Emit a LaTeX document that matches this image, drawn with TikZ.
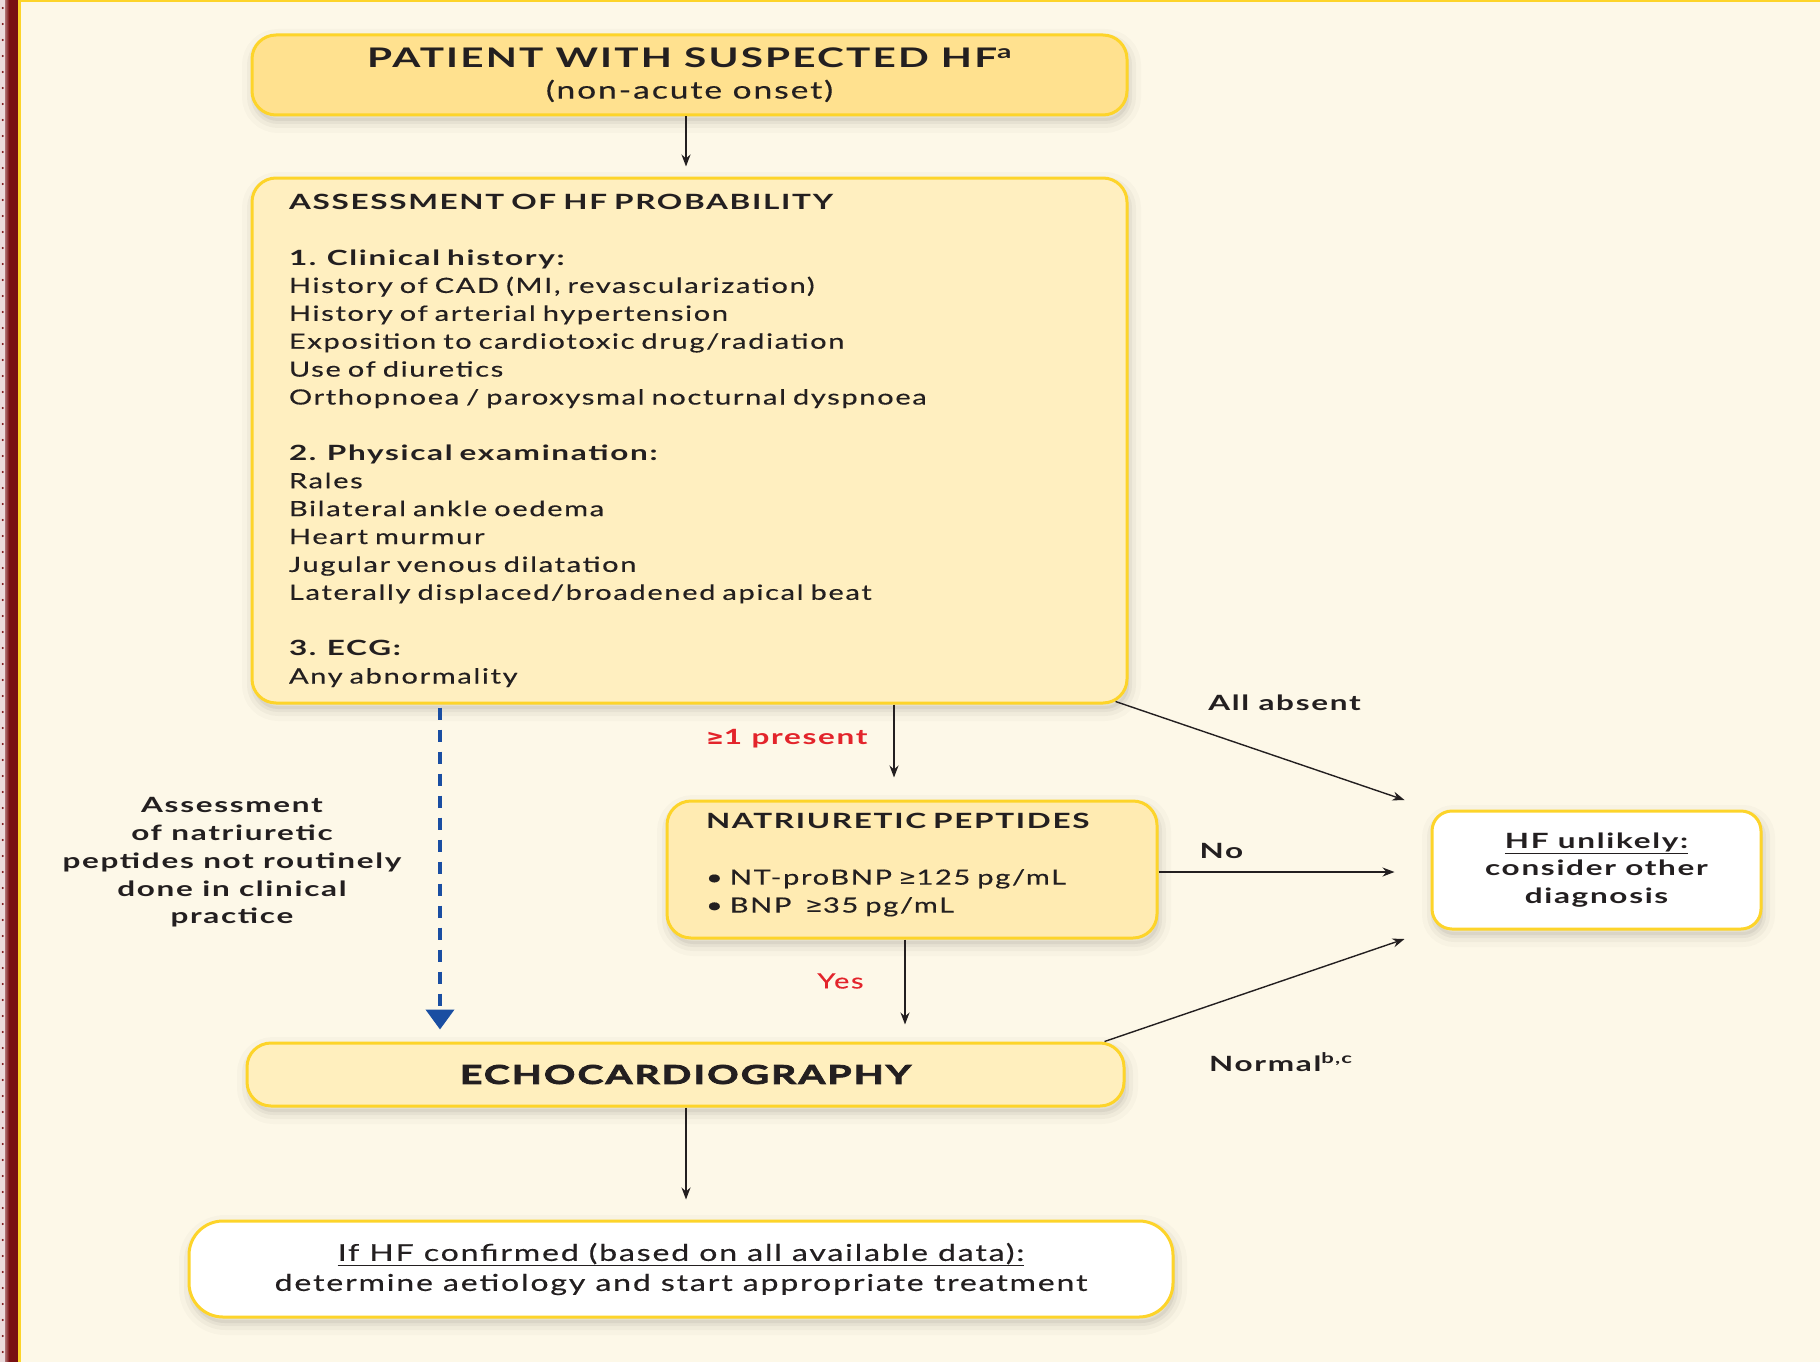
\documentclass[tikz,border=0pt]{standalone}
\usepackage{fontspec}
\setmainfont{Lato}[UprightFeatures={FakeStretch=1.38, FakeBold=0.4}, BoldFeatures={FakeStretch=1.5}, LetterSpace=8]
\newfontfamily\heavyfont{Lato}[FakeStretch=1.5, LetterSpace=8, BoldFeatures={FakeBold=3}]
\newfontfamily\symfont{DejaVu Sans}
\newcommand{\gee}{{\symfont ≥}}
\usetikzlibrary{arrows.meta,shadows,calc}
\definecolor{bg}{HTML}{FDF8E8}
\definecolor{gold}{HTML}{FDD42A}
\definecolor{fillA}{HTML}{FFE18F}
\definecolor{fillB}{HTML}{FFEFC0}
\definecolor{fillC}{HTML}{FFEBB2}
\definecolor{fillE}{HTML}{FFEFBE}
\definecolor{txt}{HTML}{231F20}
\definecolor{redt}{HTML}{E3242B}
\definecolor{blueA}{HTML}{1A4EA2}
\definecolor{maroon}{HTML}{7A1012}
\tikzset{
  softshadow/.style={
    general shadow={draw=black, line width=24pt, opacity=0.018, shadow xshift=2pt, shadow yshift=-6pt},
    general shadow={draw=black, line width=14pt, opacity=0.03, shadow xshift=2pt, shadow yshift=-6pt},
    general shadow={draw=black, line width=6pt, opacity=0.04, shadow xshift=2pt, shadow yshift=-6pt},
    general shadow={fill=black, opacity=0.05, shadow xshift=2pt, shadow yshift=-6pt}},
  box/.style={softshadow, draw=gold, line width=3pt, rounded corners=24pt, text=txt},
  arr/.style={draw=txt, line width=1.4pt, -{Stealth[length=12pt, width=9pt]}},
  bluearr/.style={draw=blueA, line width=4pt, dash pattern=on 12pt off 10pt, -{Triangle[length=20pt, width=28pt]}},
  lbl/.style={text=txt, font=\bfseries\fontsize{21}{27.9}\selectfont, inner sep=0pt},
}
\begin{document}
\begin{tikzpicture}[x=1pt,y=-1pt]
\useasboundingbox (0,0) rectangle (1820,1362);
\fill[bg] (0,0) rectangle (1820,1362);
% left border
\fill[white!85!maroon] (0,0) rectangle (6,1362);
\foreach \k in {0,...,85} {\fill[maroon] (2.8,8+\k*16) circle (1.1pt);}
\shade[left color=maroon!60!white, right color=maroon] (5,0) rectangle (9,1362);
\fill[maroon] (9,0) rectangle (18,1362);
\fill[gold] (18,0) rectangle (21,1362);
\fill[gold] (18,0) rectangle (1820,2.5);

% boxes
\node[box, fill=fillA, minimum width=875pt, minimum height=80pt, align=center,
      font=\fontsize{27}{31}\selectfont] (top) at (689.5,75)
  {\bfseries PATIENT WITH SUSPECTED HF\textsuperscript{a}\\
   {\fontsize{24.3}{31}\selectfont (non-acute onset)}};

\node[box, fill=fillB, minimum width=875pt, minimum height=525pt, text width=801pt,
      inner xsep=37pt, align=left, font=\fontsize{21}{27.9}\selectfont] (assess) at (689.5,440.5)
  {{\bfseries ASSESSMENT OF HF PROBABILITY}\\[27.9pt]
   {\bfseries 1. Clinical history:}\\
   History of CAD (MI, revascularization)\\
   History of arterial hypertension\\
   Exposition to cardiotoxic drug/radiation\\
   Use of diuretics\\
   Orthopnoea / paroxysmal nocturnal dyspnoea\\[27.9pt]
   {\bfseries 2. Physical examination:}\\
   Rales\\
   Bilateral ankle oedema\\
   Heart murmur\\
   Jugular venous dilatation\\
   Laterally displaced/broadened apical beat\\[27.9pt]
   {\bfseries 3. ECG:}\\
   Any abnormality};

\node[box, fill=fillC, minimum width=490pt, minimum height=137pt, text width=412pt,
      inner xsep=39pt, align=left, font=\fontsize{21}{27.9}\selectfont] (np) at (912,869.5)
  {{\bfseries NATRIURETIC PEPTIDES}\\[27.9pt]
   • NT-proBNP \gee125 pg/mL\\
   • BNP\ \ \gee35 pg/mL\\[-15pt]\mbox{}};

\node[box, fill=white, rounded corners=20pt, minimum width=329pt, minimum height=118pt, align=center,
      font=\bfseries\fontsize{21}{27.9}\selectfont] (hf) at (1596.5,870)
  {\underline{HF unlikely:}\\ consider other\\ diagnosis};

\node[box, fill=fillE, minimum width=877pt, minimum height=63pt, align=center,
      font=\heavyfont\bfseries\fontsize{26}{30}\selectfont] (echo) at (685.5,1074.5)
  {ECHOCARDIOGRAPHY};

\node[box, fill=white, rounded corners=34pt, minimum width=984pt, minimum height=96pt, align=center,
      font=\fontsize{23.2}{30}\selectfont] (final) at (681,1269)
  {\underline{If HF confirmed (based on all available data):}\\
   determine aetiology and start appropriate treatment};

% free ends
\coordinate (aaend) at ($(hf.west)+(-26,-70)$);
\coordinate (noend) at ($(hf.west)+(-36,2)$);
\coordinate (nmend) at ($(hf.west)+(-26,69)$);

% connectors
\draw[arr] ($(top.south)+(-3.5,0)$) -- ($(assess.north)+(-3.5,-10)$);
\draw[arr] ($(assess.south)+(204.5,0)$) -- ($(np.north)+(-18,-22)$);
\draw[bluearr] ($(assess.south)+(-249.5,3)$) -- ($(echo.north)+(-245.5,-12)$);
\draw[arr] ($(assess.south east)+(-13,-3)$) -- (aaend);
\draw[arr] ($(np.east)+(0,2.5)$) -- (noend);
\draw[arr] ($(np.south)+(-7,0)$) -- ($(echo.north)+(219.5,-17)$);
\draw[arr] ($(echo.north east)+(-21,0)$) -- (nmend);
\draw[arr] ($(echo.south)+(0.5,0)$) -- ($(final.north)+(5,-20)$);

% labels
\node[lbl, text=redt] (lpres) at (787,739) {\gee1 present};
\node[lbl] (labs) at (1284.5,703) {All absent};
\node[lbl] (lno) at (1221.5,851) {No};
\node[lbl, text=redt, font=\fontsize{21}{27.9}\selectfont] (lyes) at (840.5,981) {Yes};
\node[lbl, anchor=west] (lnorm) at (1209,1062) {Normal\textsuperscript{b,c}};
\node[lbl, align=center, font=\bfseries\fontsize{21}{27.7}\selectfont] (lnat) at (232,862.5)
  {Assessment\\ of natriuretic\\ peptides not routinely\\ done in clinical\\ practice};
\end{tikzpicture}
\end{document}
